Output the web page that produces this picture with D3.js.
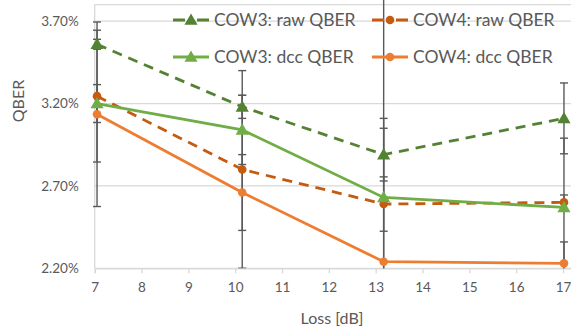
<!DOCTYPE html>
<html>
<head>
<meta charset="utf-8">
<script src="https://cdn.jsdelivr.net/npm/d3@7"></script>
<style>
  html, body { margin: 0; padding: 0; background: #fff; }
  svg { display: block; font-family: Lato, "Open Sans", sans-serif; }
</style>
</head>
<body>
<svg id="chart" width="571" height="336"></svg>
<script>
// Channel loss of each measurement (dB)
const lossDb = [7.05, 10.15, 13.17, 17.02];

// QBER values in percent
const cow3Raw = [3.56, 3.18, 2.89, 3.11];
const cow4Raw = [3.245, 2.80, 2.59, 2.60];
const cow3Dcc = [3.20, 3.04, 2.63, 2.57];
const cow4Dcc = [3.135, 2.66, 2.24, 2.23];

// Error bar half-widths in percent
const cow3RawErr = [0.03, 0.07, 0.16, 0.215];
const cow4RawErr = [0.40, 0.60, 0.165, 0.045];
const cow3DccErr = [0.115, 0.21, 0.48, 0.42];
const cow4DccErr = [0.56, 0.23, 1.75, 0.13];

// Axis ticks
const xTicks = [7, 8, 9, 10, 11, 12, 13, 14, 15, 16, 17];
const yTicks = [2.2, 2.7, 3.2, 3.7];

const seriesNames = ["COW3: raw QBER", "COW4: raw QBER", "COW3: dcc QBER", "COW4: dcc QBER"];

const series = [
  { name: seriesNames[0], values: cow3Raw, err: cow3RawErr, color: "#548235", dashed: true,  marker: "triangle" },
  { name: seriesNames[1], values: cow4Raw, err: cow4RawErr, color: "#C55A11", dashed: true,  marker: "circle" },
  { name: seriesNames[2], values: cow3Dcc, err: cow3DccErr, color: "#70AD47", dashed: false, marker: "triangle" },
  { name: seriesNames[3], values: cow4Dcc, err: cow4DccErr, color: "#ED7D31", dashed: false, marker: "circle" }
];

const svg = d3.select("#chart");
const plotLeft = 94.7, plotTop = 4.7, plotBottom = 268.3, plotRight = 572.4;

const x = d3.scaleLinear().domain([7, 17.2]).range([plotLeft, plotRight]);
const y = d3.scaleLinear().domain([2.2, 3.8]).range([plotBottom, plotTop]);

const gridColor = "#D9D9D9";
const textColor = "#595959";

// Horizontal gridlines
svg.append("g")
  .selectAll("line")
  .data(yTicks)
  .join("line")
  .attr("x1", plotLeft).attr("x2", 571)
  .attr("y1", d => y(d)).attr("y2", d => y(d))
  .attr("stroke", gridColor).attr("stroke-width", 1.3);

// Plot frame (top and left edges)
svg.append("line").attr("x1", plotLeft).attr("x2", 571).attr("y1", plotTop).attr("y2", plotTop)
  .attr("stroke", gridColor).attr("stroke-width", 1.3);
svg.append("line").attr("x1", plotLeft).attr("x2", plotLeft).attr("y1", plotTop).attr("y2", plotBottom)
  .attr("stroke", gridColor).attr("stroke-width", 1.3);

// X axis
const xAxis = svg.append("g")
  .attr("transform", `translate(0,${plotBottom})`)
  .call(d3.axisBottom(x).tickValues(xTicks).tickSize(5).tickPadding(9).tickFormat(d3.format("d")));
xAxis.select(".domain").attr("stroke", gridColor).attr("stroke-width", 1.3);
xAxis.selectAll(".tick line").attr("stroke", gridColor).attr("stroke-width", 1.3);
xAxis.selectAll(".tick text")
  .attr("fill", textColor).style("font-size", "13.5px").style("font-family", "Lato, sans-serif");

// Y axis labels
const yAxis = svg.append("g")
  .attr("transform", `translate(${plotLeft},0)`)
  .call(d3.axisLeft(y).tickValues(yTicks).tickSize(0).tickPadding(16)
    .tickFormat(d => d3.format(".2f")(d) + "%"));
yAxis.select(".domain").remove();
yAxis.selectAll(".tick text")
  .attr("fill", textColor).style("font-size", "13.5px").style("font-family", "Lato, sans-serif");

// Axis titles
svg.append("text")
  .attr("x", 332).attr("y", 318).attr("dy", "0.35em")
  .attr("text-anchor", "middle").attr("fill", textColor)
  .style("font-size", "16px").text("Loss [dB]");
svg.append("text")
  .attr("transform", "translate(18,101) rotate(-90)")
  .attr("dy", "0.35em")
  .attr("text-anchor", "middle").attr("fill", textColor)
  .style("font-size", "16px").text("QBER");

// Clip error bars at the bottom of the plot
svg.append("clipPath").attr("id", "errClip")
  .append("rect").attr("x", 0).attr("y", -50).attr("width", 600).attr("height", plotBottom + 50);

const errColor = "#595959";
const errG = svg.append("g").attr("clip-path", "url(#errClip)");
series.forEach(s => {
  const g = errG.append("g");
  const pts = lossDb.map((lx, i) => ({ x: lx, v: s.values[i], e: s.err[i] }));
  g.selectAll("line.stem").data(pts).join("line").attr("class", "stem")
    .attr("x1", d => x(d.x)).attr("x2", d => x(d.x))
    .attr("y1", d => y(d.v + d.e)).attr("y2", d => y(d.v - d.e))
    .attr("stroke", errColor).attr("stroke-width", 1.4);
  [1, -1].forEach(sign => {
    g.selectAll(null).data(pts).join("line")
      .attr("x1", d => x(d.x) - 4).attr("x2", d => x(d.x) + 4)
      .attr("y1", d => y(d.v + sign * d.e)).attr("y2", d => y(d.v + sign * d.e))
      .attr("stroke", errColor).attr("stroke-width", 1.4);
  });
});

// Series lines and markers
const line = d3.line().x(d => x(d[0])).y(d => y(d[1]));
const triangle = d3.symbol().type(d3.symbolTriangle).size(75);

function drawMarker(g, s, cx, cy) {
  if (s.marker === "triangle") {
    g.append("path").attr("d", triangle())
      .attr("transform", `translate(${cx},${cy + 1})`)
      .attr("fill", s.color);
  } else {
    g.append("circle").attr("cx", cx).attr("cy", cy).attr("r", 4.3).attr("fill", s.color);
  }
}

series.forEach(s => {
  const g = svg.append("g");
  const pts = lossDb.map((lx, i) => [lx, s.values[i]]);
  g.append("path").attr("d", line(pts))
    .attr("fill", "none").attr("stroke", s.color).attr("stroke-width", 2.8)
    .attr("stroke-dasharray", s.dashed ? "10,7" : null);
  pts.forEach(p => drawMarker(g, s, x(p[0]), y(p[1])));
});

// Legend (two columns, two rows)
const legendPos = [
  { x: 173, y: 20 }, { x: 372, y: 20 },
  { x: 173, y: 57 }, { x: 372, y: 57 }
];
series.forEach((s, i) => {
  const p = legendPos[i];
  const g = svg.append("g");
  g.append("line").attr("x1", p.x).attr("x2", p.x + 36).attr("y1", p.y).attr("y2", p.y)
    .attr("stroke", s.color).attr("stroke-width", 2.8)
    .attr("stroke-dasharray", s.dashed ? "12,12" : null);
  drawMarker(g, s, p.x + 18, p.y);
  g.append("text").attr("x", p.x + 41).attr("y", p.y).attr("dy", "0.35em")
    .attr("fill", textColor).style("font-size", "17.5px").text(s.name);
});
</script>
</body>
</html>
